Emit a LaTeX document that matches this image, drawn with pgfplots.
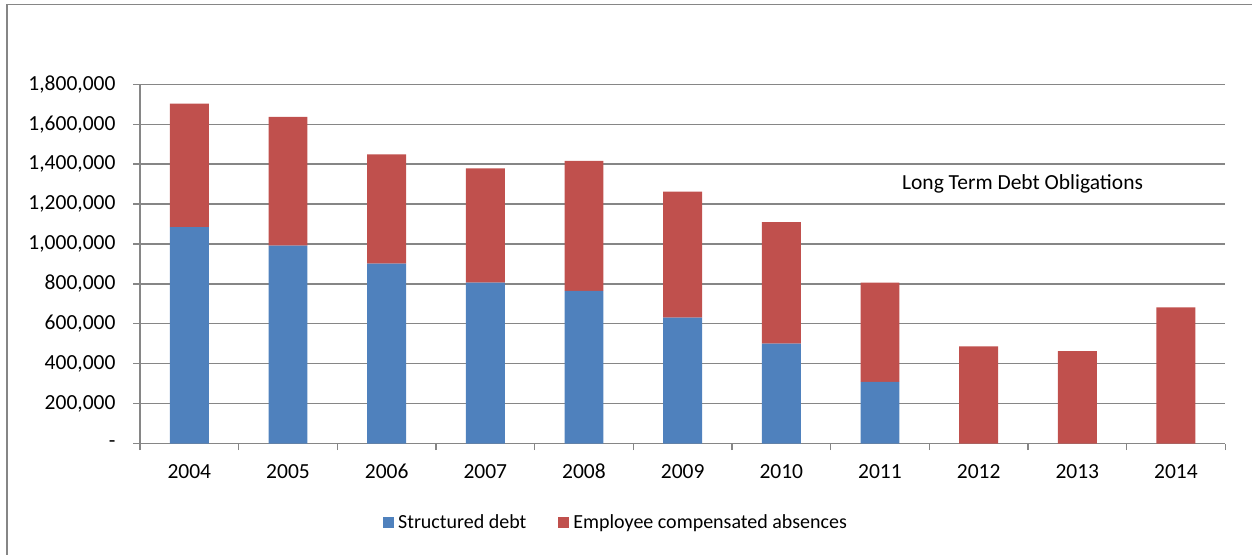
\documentclass[border=0pt]{standalone}
\usepackage{fontspec}
\setmainfont{Carlito}
\usepackage{pgfplots}
\pgfplotsset{compat=1.18}
\definecolor{sblue}{HTML}{4F81BD}
\definecolor{sred}{HTML}{C0504D}
\definecolor{gline}{HTML}{868686}
\begin{document}
\begin{tikzpicture}[x=1pt,y=1pt,font=\fontsize{21.5pt}{25pt}\selectfont]
\useasboundingbox (0,0) rectangle (1252,-554);
\draw[gline, line width=1.5pt] (7,-4.5) rectangle (1275,-575);
\begin{axis}[
  at={(140pt,-443.7pt)}, anchor=south west,
  scale only axis, width=1085.3pt, height=359.5pt,
  xmin=-0.5, xmax=10.5, ymin=0, ymax=1800000,
  scaled y ticks=false,
  ybar stacked, bar width=0.395,
  axis lines*=left,
  axis line style={gline, line width=1.2pt, -},
  ymajorgrids, grid style={gline, line width=1.2pt},
  xtick={0,1,2,3,4,5,6,7,8,9,10},
  xticklabels={2004,2005,2006,2007,2008,2009,2010,2011,2012,2013,2014},
  minor xtick={-0.5,0.5,1.5,2.5,3.5,4.5,5.5,6.5,7.5,8.5,9.5,10.5},
  ytick={0,200000,400000,600000,800000,1000000,1200000,1400000,1600000,1800000},
  yticklabels={{-},{200,000},{400,000},{600,000},{800,000},{1,000,000},{1,200,000},{1,400,000},{1,600,000},{1,800,000}},
  tick align=outside,
  major tick length=7pt, minor tick length=6.5pt,
  every major x tick/.append style={draw=none},
  every tick/.append style={gline, line width=1.2pt},
  every minor tick/.append style={gline, line width=1.2pt},
  ticklabel style={font=\fontsize{21.5pt}{25pt}\selectfont, text=black},
  yticklabel style={xshift=-14pt},
  xticklabel style={yshift=-10pt},
  /pgf/number format/assume math mode=true,
  legend columns=2,
  legend style={at={(axis description cs:0.4386,-0.2178)}, anchor=center, draw=none, fill=none,
     font=\fontsize{20pt}{24pt}\selectfont,
     /tikz/every odd column/.append style={column sep=2pt},
     /tikz/every even column/.append style={column sep=30pt}},
]
\addplot[fill=sblue, draw=none, legend image code/.code={\fill[sblue] (0pt,-5.5pt) rectangle (11pt,5.5pt);}] coordinates {
(0,1085000) (1,992000) (2,902000) (3,807000) (4,765000) (5,631000) (6,501000) (7,309000) (8,0) (9,0) (10,0)};
\addplot[fill=sred, draw=none, legend image code/.code={\fill[sred] (0pt,-5.5pt) rectangle (11pt,5.5pt);}] coordinates {
(0,618000) (1,644000) (2,547000) (3,571000) (4,651000) (5,631000) (6,608000) (7,498000) (8,487000) (9,464000) (10,683000)};
\legend{Structured debt, Employee compensated absences}
\node[font=\fontsize{21.5pt}{25pt}\selectfont] at (axis cs:8.445,1299000) {Long Term Debt Obligations};
\end{axis}
\end{tikzpicture}
\end{document}
